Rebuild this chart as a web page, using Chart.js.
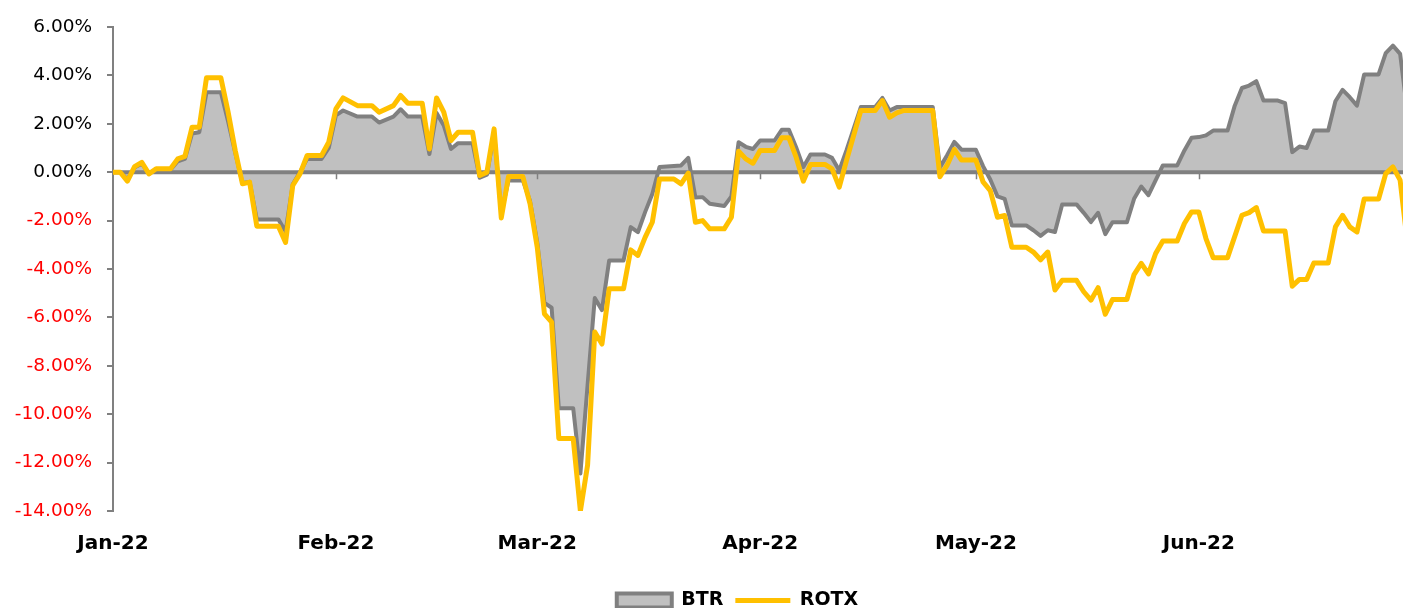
<!DOCTYPE html>
<html>
<head>
<meta charset="utf-8">
<script src="https://cdn.jsdelivr.net/npm/chart.js@4.4.0/dist/chart.umd.min.js"></script>
<style>
  html, body { margin: 0; padding: 0; background: #ffffff; }
  #wrap { width: 1403px; height: 608px; }
</style>
</head>
<body>
<div id="wrap"><canvas id="perfChart"></canvas></div>
<script>
// day index counted from 1 Jan 2022
const monthDays = [0, 31, 59, 90, 120, 151];
const monthLabels = ['Jan-22', 'Feb-22', 'Mar-22', 'Apr-22', 'May-22', 'Jun-22'];

const btrDays = [0, 1, 2, 3, 4, 5, 6, 8, 9, 10, 11, 12, 13, 15, 16, 17, 18, 19, 20, 23, 24, 25, 26, 27, 29, 30,
    31, 32, 34, 36, 37, 39, 40, 41, 43, 44, 45, 46, 47, 48, 50, 51, 52, 53, 54, 55, 57, 58,
    59, 60, 61, 62, 64, 65, 66, 67, 68, 69, 71, 72, 73, 74, 75, 76, 79, 80, 81, 82, 83, 85, 86, 87, 88, 89,
    90, 92, 93, 94, 95, 96, 97, 99, 100, 101, 102, 104, 106, 107, 108, 109, 114, 115, 116, 117, 118,
    120, 121, 122, 123, 124, 125, 127, 128, 129, 130, 131, 132, 134, 135, 136, 137, 138, 139, 141, 142, 143, 144, 146, 148, 149, 150,
    151, 152, 153, 155, 156, 157, 158, 159, 160, 162, 163, 164, 165, 166, 167, 169, 170, 171, 172, 173, 174, 176, 177, 178, 179, 180];
const btrValues = [0, 0, -0.3, 0.2, 0.35, -0.05, 0.1, 0.1, 0.45, 0.55, 1.6, 1.65, 3.3, 3.3, 2.1, 0.8, -0.45, -0.4, -1.95, -1.95, -2.45, -0.5, 0, 0.55, 0.55, 1.0,
    2.35, 2.55, 2.3, 2.3, 2.05, 2.3, 2.6, 2.3, 2.3, 0.75, 2.45, 1.93, 0.96, 1.2, 1.2, -0.23, -0.1, 1.6, -1.7, -0.34, -0.34, -1.2,
    -2.9, -5.4, -5.6, -9.75, -9.75, -12.45, -8.8, -5.2, -5.7, -3.65, -3.65, -2.27, -2.48, -1.65, -0.9, 0.21, 0.28, 0.59, -1.05, -1.03, -1.3, -1.4, -1.0, 1.24, 1.05, 0.96,
    1.31, 1.31, 1.75, 1.75, 1.03, 0.21, 0.73, 0.73, 0.59, 0.07, 0.9, 2.69, 2.69, 3.07, 2.55, 2.69, 2.69, 0.2, 0.7, 1.25, 0.93,
    0.93, 0.25, -0.3, -1.0, -1.1, -2.2, -2.2, -2.4, -2.63, -2.4, -2.47, -1.33, -1.33, -1.68, -2.06, -1.68, -2.56, -2.07, -2.07, -1.1, -0.59, -0.95, 0.28, 0.28, 0.9, 1.42,
    1.45, 1.52, 1.72, 1.72, 2.75, 3.48, 3.58, 3.76, 2.96, 2.96, 2.85, 0.83, 1.06, 1.0, 1.72, 1.72, 2.93, 3.4, 3.1, 2.75, 4.04, 4.04, 4.92, 5.23, 4.89, 2.5];

const rotxDays = [0, 1, 2, 3, 4, 5, 6, 8, 9, 10, 11, 12, 13, 15, 16, 17, 18, 19, 20, 23, 24, 25, 26, 27, 29, 30,
    31, 32, 34, 36, 37, 39, 40, 41, 43, 44, 45, 46, 47, 48, 50, 51, 52, 53, 54, 55, 57, 58,
    59, 60, 61, 62, 64, 65, 66, 67, 68, 69, 71, 72, 73, 74, 75, 76, 78, 79, 80, 81, 82, 83, 85, 86, 87, 88, 89,
    90, 92, 93, 94, 95, 96, 97, 99, 100, 101, 102, 104, 106, 107, 108, 109, 110, 114, 115, 116, 117, 118,
    120, 121, 122, 123, 124, 125, 127, 128, 129, 130, 131, 132, 134, 135, 136, 137, 138, 139, 141, 142, 143, 144, 145, 146, 148, 149, 150,
    151, 152, 153, 155, 157, 158, 159, 160, 163, 164, 165, 166, 167, 169, 170, 171, 172, 173, 174, 176, 177, 178, 179, 180];
const rotxValues = [0, 0, -0.37, 0.23, 0.41, -0.07, 0.14, 0.14, 0.55, 0.65, 1.86, 1.86, 3.9, 3.9, 2.5, 0.9, -0.48, -0.41, -2.23, -2.23, -2.9, -0.55, -0.07, 0.69, 0.69, 1.24,
    2.62, 3.07, 2.75, 2.75, 2.48, 2.75, 3.17, 2.85, 2.85, 0.96, 3.07, 2.48, 1.31, 1.65, 1.65, -0.14, 0, 1.79, -1.89, -0.18, -0.18, -1.31,
    -3.1, -5.85, -6.2, -11.0, -11.0, -14.0, -12.1, -6.6, -7.1, -4.82, -4.82, -3.21, -3.44, -2.69, -2.07, -0.28, -0.28, -0.48, -0.04, -2.07, -2.0, -2.34, -2.34, -1.86, 0.87, 0.55, 0.37,
    0.9, 0.9, 1.42, 1.42, 0.62, -0.37, 0.32, 0.32, 0.14, -0.62, 0.48, 2.55, 2.55, 2.96, 2.27, 2.45, 2.55, 2.55, -0.19, 0.29, 0.94, 0.5,
    0.5, -0.4, -0.76, -1.86, -1.79, -3.1, -3.1, -3.3, -3.62, -3.3, -4.87, -4.47, -4.47, -4.94, -5.29, -4.77, -5.87, -5.26, -5.26, -4.23, -3.77, -4.2, -3.36, -2.84, -2.84, -2.12, -1.64,
    -1.64, -2.74, -3.53, -3.53, -1.78, -1.67, -1.46, -2.43, -2.43, -4.71, -4.43, -4.43, -3.75, -3.75, -2.26, -1.78, -2.26, -2.47, -1.11, -1.11, -0.06, 0.22, -0.33, -2.9];

const lastDay = 179.4;

function toPoints(days, values) {
    return days.map((d, i) => ({ x: d, y: values[i] }));
}

// zero axis with month tick marks, drawn over the grey area but under the yellow line
const zeroAxis = {
    id: 'zeroAxis',
    afterDatasetDraw(chart, args) {
        if (args.index !== 0) return;
        const { ctx, chartArea, scales } = chart;
        const y0 = scales.y.getPixelForValue(0);
        ctx.save();
        ctx.strokeStyle = '#808080';
        ctx.lineWidth = 4;
        ctx.beginPath();
        ctx.moveTo(chartArea.left, y0);
        ctx.lineTo(chartArea.right, y0);
        ctx.stroke();
        ctx.lineWidth = 1.5;
        ctx.beginPath();
        monthDays.slice(1).forEach(d => {
            const px = Math.round(scales.x.getPixelForValue(d)) + 0.5;
            ctx.moveTo(px, y0);
            ctx.lineTo(px, y0 + 7);
        });
        ctx.stroke();
        ctx.restore();
    }
};

// legend in the original sits a bit right of the canvas centre
const legendShift = {
    id: 'legendShift',
    afterLayout(chart) {
        if (!chart.legend) return;
        chart.legend.left += 36;
        chart.legend.right += 36;
    }
};

const ctx = document.getElementById('perfChart').getContext('2d');
const fontFamily = "'DejaVu Sans', sans-serif";

new Chart(ctx, {
    type: 'line',
    data: {
        datasets: [{
            label: 'BTR',
            data: toPoints(btrDays, btrValues),
            borderColor: '#808080',
            backgroundColor: '#C0C0C0',
            borderWidth: 4,
            fill: 'origin',
            pointRadius: 0,
            tension: 0,
            borderJoinStyle: 'round',
            borderCapStyle: 'round',
            pointStyle: 'rect',
            order: 2
        }, {
            label: 'ROTX',
            data: toPoints(rotxDays, rotxValues),
            borderColor: '#FFC000',
            backgroundColor: '#FFC000',
            borderWidth: 5,
            fill: false,
            pointRadius: 0,
            tension: 0,
            borderJoinStyle: 'round',
            borderCapStyle: 'round',
            pointStyle: 'line',
            order: 1
        }]
    },
    options: {
        responsive: true,
        maintainAspectRatio: false,
        animation: false,
        layout: {
            padding: { top: 27, bottom: -12, left: 0, right: 0 }
        },
        scales: {
            x: {
                type: 'linear',
                min: 0,
                max: lastDay,
                afterBuildTicks: scale => {
                    scale.ticks = monthDays.map(v => ({ value: v }));
                },
                afterFit: scale => { scale.height = 68; },
                grid: { display: false, drawTicks: false },
                border: { display: false },
                ticks: {
                    autoSkip: false,
                    maxRotation: 0,
                    padding: 21,
                    color: '#000000',
                    font: { family: fontFamily, size: 20, weight: 'bold' },
                    callback: value => monthLabels[monthDays.indexOf(value)]
                }
            },
            y: {
                min: -14,
                max: 6,
                afterFit: scale => { scale.width = 113; },
                grid: {
                    drawOnChartArea: false,
                    drawTicks: true,
                    tickLength: 6,
                    color: '#808080',
                    lineWidth: 2
                },
                border: { color: '#808080', width: 2 },
                ticks: {
                    stepSize: 2,
                    padding: 15,
                    color: c => c.tick.value < 0 ? '#FF0000' : '#000000',
                    font: { family: fontFamily, size: 18.5 },
                    callback: v => v.toFixed(2) + '%'
                }
            }
        },
        plugins: {
            legend: {
                position: 'bottom',
                labels: {
                    usePointStyle: true,
                    pointStyleWidth: 55,
                    boxHeight: 14,
                    padding: 12,
                    color: '#000000',
                    font: { family: fontFamily, size: 19, weight: 'bold' },
                    sort: (a, b) => a.datasetIndex - b.datasetIndex
                }
            },
            tooltip: { enabled: false }
        }
    },
    plugins: [zeroAxis, legendShift]
});
</script>
</body>
</html>
